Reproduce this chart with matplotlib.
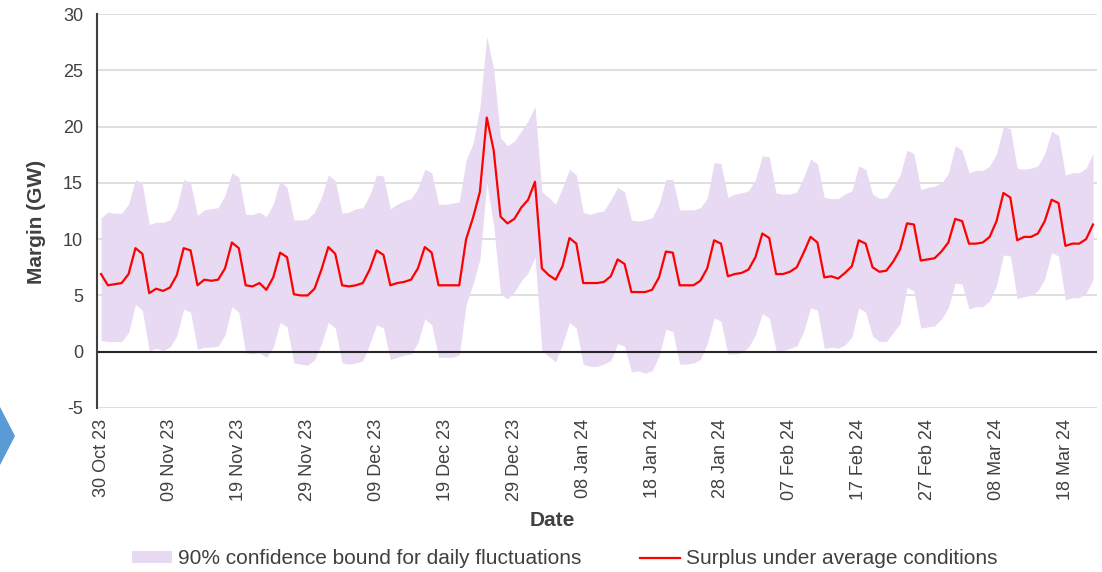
import matplotlib
matplotlib.use("Agg")
import matplotlib.pyplot as plt
import matplotlib.dates as mdates
from matplotlib.patches import Polygon, Patch
from matplotlib.lines import Line2D
import pandas as pd
import numpy as np

plt.rcParams['font.family'] = ['Liberation Sans', 'DejaVu Sans']
plt.rcParams['axes.unicode_minus'] = False

start_date = "2023-10-30"

surplus = [
    6.9, 5.9, 6.0, 6.1, 6.9, 9.2, 8.7,
    5.2, 5.6, 5.4, 5.7, 6.8, 9.2, 9.0,
    5.9, 6.4, 6.3, 6.4, 7.4, 9.7, 9.2,
    5.9, 5.8, 6.1, 5.5, 6.6, 8.8, 8.4,
    5.1, 5.0, 5.0, 5.6, 7.3, 9.3, 8.7,
    5.9, 5.8, 5.9, 6.1, 7.3, 9.0, 8.6,
    5.9, 6.1, 6.2, 6.4, 7.4, 9.3, 8.8,
    5.9, 5.9, 5.9, 5.9, 10.0, 11.9, 14.2,
    20.8, 17.9, 12.0, 11.4, 11.8, 12.8, 13.5,
    15.1, 7.4, 6.8, 6.4, 7.6, 10.1, 9.6,
    6.1, 6.1, 6.1, 6.2, 6.7, 8.2, 7.8,
    5.3, 5.3, 5.3, 5.5, 6.6, 8.9, 8.8,
    5.9, 5.9, 5.9, 6.3, 7.4, 9.9, 9.6,
    6.7, 6.9, 7.0, 7.3, 8.4, 10.5, 10.1,
    6.9, 6.9, 7.1, 7.5, 8.8, 10.2, 9.7,
    6.6, 6.7, 6.5, 7.0, 7.6, 9.9, 9.6,
    7.5, 7.1, 7.2, 8.0, 9.1, 11.4, 11.3,
    8.1, 8.2, 8.3, 8.9, 9.7, 11.8, 11.6,
    9.6, 9.6, 9.7, 10.2, 11.6, 14.1, 13.7,
    9.9, 10.2, 10.2, 10.5, 11.6, 13.5, 13.2,
    9.4, 9.6, 9.6, 10.0, 11.3,
]

upper = [
    11.9, 12.4, 12.3, 12.3, 13.1, 15.3, 14.9,
    11.3, 11.5, 11.5, 11.7, 12.8, 15.3, 15.0,
    12.1, 12.6, 12.7, 12.8, 13.9, 15.9, 15.5,
    12.2, 12.2, 12.4, 12.0, 13.1, 15.2, 14.6,
    11.7, 11.7, 11.8, 12.4, 13.7, 15.7, 15.2,
    12.3, 12.4, 12.7, 12.8, 13.9, 15.7, 15.6,
    12.7, 13.1, 13.4, 13.6, 14.5, 16.2, 15.9,
    13.1, 13.1, 13.2, 13.3, 17.0, 18.5, 21.7,
    28.0, 25.1, 19.0, 18.3, 18.7, 19.6, 20.5,
    21.8, 14.2, 13.7, 13.1, 14.6, 16.2, 15.7,
    12.4, 12.2, 12.4, 12.5, 13.5, 14.6, 14.2,
    11.7, 11.6, 11.7, 11.9, 13.1, 15.3, 15.3,
    12.6, 12.6, 12.6, 12.8, 13.6, 16.8, 16.7,
    13.7, 14.0, 14.1, 14.3, 15.3, 17.4, 17.3,
    14.1, 14.0, 14.0, 14.2, 15.5, 17.1, 16.7,
    13.7, 13.6, 13.6, 14.0, 14.3, 16.5, 16.2,
    14.0, 13.6, 13.7, 14.6, 15.7, 17.9, 17.6,
    14.4, 14.6, 14.7, 15.0, 15.8, 18.3, 17.9,
    15.9, 16.1, 16.1, 16.5, 17.6, 20.0, 19.8,
    16.3, 16.2, 16.3, 16.5, 17.6, 19.6, 19.2,
    15.7, 15.9, 15.9, 16.3, 17.6,
]

lower = [
    1.0, 0.9, 0.9, 0.9, 1.7, 4.2, 3.7,
    0.1, 0.3, 0.1, 0.4, 1.4, 3.8, 3.5,
    0.2, 0.4, 0.4, 0.5, 1.5, 4.0, 3.5,
    -0.1, -0.2, -0.1, -0.5, 0.4, 2.6, 2.2,
    -1.0, -1.1, -1.2, -0.7, 0.7, 2.6, 2.1,
    -1.0, -1.1, -1.0, -0.8, 0.7, 2.4, 2.1,
    -0.7, -0.5, -0.3, -0.2, 0.8, 2.9, 2.4,
    -0.5, -0.5, -0.5, -0.3, 4.2, 6.0, 8.2,
    15.0, 11.2, 5.1, 4.7, 5.3, 6.3, 7.0,
    8.4, 0.1, -0.4, -0.9, 0.7, 2.6, 2.1,
    -1.1, -1.3, -1.3, -1.1, -0.8, 0.7, 0.5,
    -1.8, -1.7, -1.9, -1.7, -0.4, 2.0, 1.8,
    -1.1, -1.1, -1.0, -0.7, 0.7, 3.0, 2.7,
    -0.2, -0.2, -0.1, 0.4, 1.5, 3.4, 3.0,
    0.1, 0.1, 0.3, 0.5, 1.8, 3.9, 3.7,
    0.3, 0.4, 0.3, 0.6, 1.3, 3.9, 3.5,
    1.4, 0.9, 0.9, 1.7, 2.5, 5.7, 5.4,
    2.1, 2.2, 2.3, 2.9, 3.9, 6.1, 6.0,
    3.8, 4.0, 4.0, 4.5, 5.9, 8.6, 8.5,
    4.7, 4.9, 5.0, 5.4, 6.5, 8.8, 8.5,
    4.6, 4.8, 4.8, 5.2, 6.4,
]

y_ticks = [-5, 0, 5, 10, 15, 20, 25, 30]
band_label = "90% confidence bound for daily fluctuations"
line_label = "Surplus under average conditions"
x_title = "Date"
y_title = "Margin (GW)"

dates = pd.date_range(start_date, periods=len(surplus), freq="D")

W, H = 1102, 572
fig = plt.figure(figsize=(W / 100, H / 100), dpi=100)
ax = fig.add_axes([97 / W, 1 - 408 / H, 1000 / W, 394 / H])

band_color = "#E8DAF2"
ax.fill_between(dates, lower, upper, color=band_color, linewidth=0, zorder=1)
ax.plot(dates, surplus, color="#FF0000", linewidth=1.6, zorder=3)

ax.set_ylim(-5, 30)
ax.set_yticks(y_ticks)
ax.yaxis.grid(True, color="#D9D9D9", linewidth=1.2, zorder=0)
ax.set_axisbelow(True)
ax.axhline(0, color="#262626", linewidth=1.5, zorder=2)

ax.set_xlim(dates[0] - pd.Timedelta(hours=14), dates[-1] + pd.Timedelta(hours=14))
ax.set_xticks(dates[::10])
ax.xaxis.set_major_formatter(mdates.DateFormatter("%d %b %y"))
for lab in ax.get_xticklabels():
    lab.set_rotation(90)

ax.tick_params(axis="both", length=0, labelsize=13, labelcolor="#404040")
ax.tick_params(axis="x", pad=8)
ax.tick_params(axis="y", pad=10)

for s in ["top", "right", "bottom"]:
    ax.spines[s].set_visible(False)
ax.spines["left"].set_color("#404040")
ax.spines["left"].set_linewidth(1.5)

fig.text(37 / W, 1 - 222 / H, y_title, rotation=90, ha="center", va="center",
         fontsize=15, fontweight="bold", color="#404040")
fig.text(552 / W, 1 - 520 / H, x_title, ha="center", va="center",
         fontsize=15, fontweight="bold", color="#404040")

handles = [Patch(facecolor=band_color, edgecolor="none"),
           Line2D([0], [0], color="#FF0000", linewidth=1.6)]
leg = fig.legend(handles, [band_label, line_label], loc="center",
                 bbox_to_anchor=(565 / W, 1 - 559 / H), ncol=2, frameon=False,
                 fontsize=15, handlelength=1.92, handleheight=0.5,
                 handletextpad=0.3, columnspacing=2.8, borderpad=0)
for t in leg.get_texts():
    t.set_color("#404040")

chevron = Polygon([(-1 / W, 1 - 405 / H), (15 / W, 1 - 436 / H), (-1 / W, 1 - 467 / H)],
                  closed=True, transform=fig.transFigure, facecolor="#5B9BD5",
                  edgecolor="none")
fig.patches.append(chevron)

fig.savefig("out.png", dpi=100)
